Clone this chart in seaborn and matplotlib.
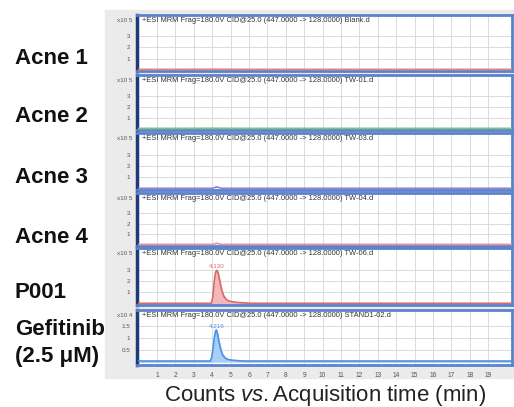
import numpy as np
import pandas as pd
import matplotlib
matplotlib.use('Agg')
import matplotlib.pyplot as plt
import seaborn as sns
from matplotlib.patches import Rectangle

# sample names and data files
samples = ['Acne 1', 'Acne 2', 'Acne 3', 'Acne 4', 'P001', 'Gefitinib\n(2.5 \u03bcM)']
files = ['Blank.d', 'TW-01.d', 'TW-03.d', 'TW-04.d', 'TW-06.d', 'STAND1-02.d']
exponents = ['5', '5', '5', '5', '5', '4']

# chromatogram traces (time in min, counts in x10^n)
t_flat = [0.0, 2.0, 4.0, 6.0, 8.0, 10.0, 12.0, 14.0, 16.0, 18.0, 20.3]
y_acne1 = [0.05, 0.05, 0.06, 0.05, 0.05, 0.05, 0.05, 0.05, 0.05, 0.05, 0.05]
y_acne2 = [0.05, 0.05, 0.06, 0.05, 0.05, 0.05, 0.05, 0.05, 0.05, 0.05, 0.05]

t_blip = [0.0, 2.0, 4.0, 4.15, 4.25, 4.35, 4.5, 6.0, 10.0, 14.0, 20.3]
y_acne3 = [0.05, 0.05, 0.05, 0.12, 0.18, 0.12, 0.05, 0.05, 0.05, 0.05, 0.05]
y_acne4 = [0.05, 0.05, 0.05, 0.10, 0.16, 0.10, 0.05, 0.05, 0.05, 0.05, 0.05]

t_p001 = [0.0, 2.0, 3.95, 4.02, 4.08, 4.14, 4.20, 4.26, 4.32, 4.40, 4.50, 4.62,
          4.75, 4.90, 5.10, 5.40, 5.80, 6.10, 10.0, 15.0, 20.3]
y_p001 = [0.05, 0.05, 0.05, 0.5, 1.5, 2.4, 2.85, 2.95, 2.7, 2.1, 1.3, 0.7,
          0.4, 0.25, 0.18, 0.12, 0.08, 0.05, 0.05, 0.05, 0.05]

t_gef = [0.0, 2.0, 3.90, 3.98, 4.05, 4.12, 4.18, 4.22, 4.28, 4.35, 4.45, 4.55,
         4.70, 4.85, 5.05, 5.30, 5.70, 10.0, 15.0, 20.3]
y_gef = [0.02, 0.02, 0.02, 0.2, 0.6, 1.05, 1.3, 1.35, 1.2, 0.9, 0.55, 0.3,
         0.15, 0.09, 0.06, 0.04, 0.02, 0.02, 0.02, 0.02]

traces = [(t_flat, y_acne1), (t_flat, y_acne2), (t_blip, y_acne3),
          (t_blip, y_acne4), (t_p001, y_p001), (t_gef, y_gef)]
peak_labels = [None, None, None, None, ('4.130', 4.22, 2.95), ('4.216', 4.22, 1.35)]

y_ticks = [[1, 2, 3]] * 5 + [[0.5, 1, 1.5]]
y_lims = [(-0.1, 4.9)] * 5 + [(-0.15, 2.2)]
x_ticks = list(range(1, 20))

line_colors = ['#e88080', '#7cc47c', '#8a86cf', '#e391a0', '#d96a6a', '#4a93e6']
fill_colors = [None, None, None, None, '#f1b9b9', '#a9cff6']

# panel pixel bounds (top, bottom)
panel_px = [(15, 71), (75, 130), (133, 190), (193, 246), (248, 305), (310, 365)]
label_y = [58, 117, 178, 238, 293, 343]

sns.set_style('white')
plt.rcParams['font.family'] = ['Liberation Sans', 'DejaVu Sans']
plt.rcParams['mathtext.fontset'] = 'custom'
plt.rcParams['mathtext.it'] = 'Liberation Sans:italic'
plt.rcParams['mathtext.rm'] = 'Liberation Sans'

W, H = 514, 407
fig = plt.figure(figsize=(W / 100, H / 100), dpi=100)
fig.patches.append(Rectangle((105 / W, 1 - 378 / H), (W - 105) / W, (378 - 10) / H,
                             transform=fig.transFigure, color='#ebebeb', zorder=-10))

left, right = 137, 512
for i, (top, bot) in enumerate(panel_px):
    ax = fig.add_axes([left / W, 1 - bot / H, (right - left) / W, (bot - top) / H])
    df = pd.DataFrame({'t': traces[i][0], 'y': traces[i][1]})
    if fill_colors[i]:
        ax.fill_between(df['t'], 0, df['y'], color=fill_colors[i], zorder=2)
    sns.lineplot(data=df, x='t', y='y', ax=ax, color=line_colors[i], lw=1.2, zorder=3)
    ax.set_xlim(-0.09, 20.3)
    ax.set_ylim(*y_lims[i])
    ax.set_xticks(x_ticks)
    ax.set_yticks(y_ticks[i])
    ax.set_yticklabels([f'{v:g}' for v in y_ticks[i]])
    ax.grid(True, color='#d6d6d6', lw=0.6)
    ax.set_axisbelow(True)
    ax.set_xlabel('')
    ax.set_ylabel('')
    for s in ax.spines.values():
        s.set_color('#5b82cc')
        s.set_linewidth(2)
    ax.spines['left'].set_color('#1e3a78')
    ax.spines['left'].set_linewidth(2.5)
    ax.tick_params(axis='y', labelsize=4.5, labelcolor='#555555', length=2,
                   width=0.6, color='#333333', pad=3)
    if i < 5:
        ax.tick_params(axis='x', labelbottom=False, length=0)
    else:
        ax.tick_params(axis='x', labelsize=4.8, labelcolor='#555555', length=2,
                       width=0.6, color='#333333', pad=3)
    ax.text(-0.012, 0.9, 'x10 ' + exponents[i], transform=ax.transAxes,
            ha='right', va='center', fontsize=4.5, color='#555555')
    ax.text(0.012, 0.96, '+ESI MRM Frag=180.0V CID@25.0 (447.0000 -> 128.0000) ' + files[i],
            transform=ax.transAxes, ha='left', va='top', fontsize=5.4, color='#333333')
    if peak_labels[i]:
        txt, px, py = peak_labels[i]
        ax.text(px, py + 0.02 * (y_lims[i][1] - y_lims[i][0]), txt, ha='center',
                va='bottom', fontsize=4.5, color=line_colors[i])
    fig.text(15 / W, 1 - label_y[i] / H, samples[i], ha='left', va='center',
             fontsize=16, fontweight='bold', color='#111111', linespacing=1.35)

fig.text(325 / W, 1 - 395 / H, 'Counts $\\it{vs.}$Acquisition time (min)',
         ha='center', va='center', fontsize=16, color='#222222')

fig.savefig('out.png', dpi=100)
